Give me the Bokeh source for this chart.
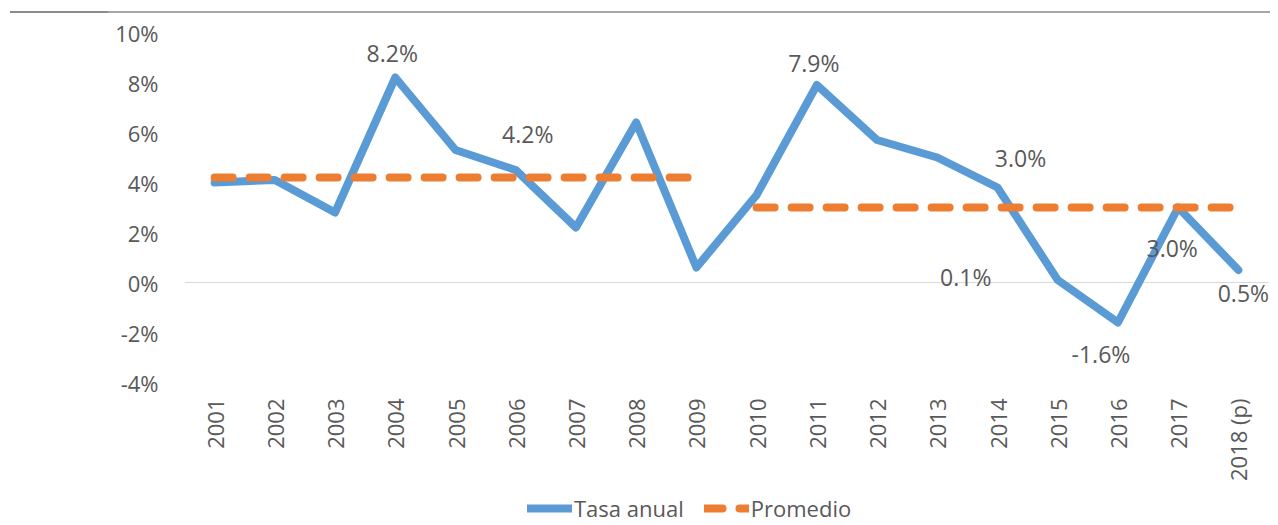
import math
from bokeh.plotting import figure
from bokeh.models import (FactorRange, Range1d, FixedTicker, PrintfTickFormatter,
                          Span, Legend, LegendItem, LabelSet, ColumnDataSource, Div)
from bokeh.layouts import column
from bokeh.core.properties import value
from bokeh.embed import file_html
from bokeh.resources import INLINE

# ---------------- data ----------------
years = ["2001", "2002", "2003", "2004", "2005", "2006", "2007", "2008", "2009",
         "2010", "2011", "2012", "2013", "2014", "2015", "2016", "2017", "2018 (p)"]
tasa_anual = [4.0, 4.1, 2.8, 8.2, 5.3, 4.5, 2.2, 6.4, 0.6,
              3.5, 7.9, 5.7, 5.0, 3.8, 0.1, -1.6, 3.0, 0.5]
promedio_years_1 = ["2001", "2002", "2003", "2004", "2005", "2006", "2007", "2008", "2009"]
promedio_vals_1 = [4.2, 4.2, 4.2, 4.2, 4.2, 4.2, 4.2, 4.2, 4.2]
promedio_years_2 = ["2010", "2011", "2012", "2013", "2014", "2015", "2016", "2017", "2018 (p)"]
promedio_vals_2 = [3.0, 3.0, 3.0, 3.0, 3.0, 3.0, 3.0, 3.0, 3.0]
y_ticks = [-4, -2, 0, 2, 4, 6, 8, 10]
label_years = ["2004", "2006", "2011", "2014", "2015", "2016", "2017", "2018 (p)"]
label_texts = ["8.2%", "4.2%", "7.9%", "3.0%", "0.1%", "-1.6%", "3.0%", "0.5%"]

# label placement (style, screen px)
label_dx = [-3, 12, -3, 23, -92, -17, -6, 5]
label_dy = [25, 36, 22, 30, 3, -31, -40, -23]

FONT = "Open Sans"
TXT = "#595959"
BLUE = "#5B9BD5"
ORANGE = "#ED7D31"

# frame extends to the bottom of the page so that the x axis (fixed at -4)
# and the legend can be drawn inside it
p = figure(frame_width=1084, frame_height=493, x_range=FactorRange(*years),
           y_range=Range1d(-9.72, 10), output_backend="svg", toolbar_location=None,
           min_border_left=184, min_border_right=10, min_border_top=18, min_border_bottom=0,
           outline_line_color=None, background_fill_color="white", border_fill_color="white")

p.xgrid.grid_line_color = None
p.ygrid.grid_line_color = None

zero = Span(location=0, dimension="width", line_color="#d9d9d9", line_width=1, level="underlay")
p.add_layout(zero)

r_tasa = p.line(years, tasa_anual, line_color=BLUE, line_width=8, line_join="round", line_cap="round")
r_prom = p.multi_line([promedio_years_1, promedio_years_2], [promedio_vals_1, promedio_vals_2],
                      line_color=ORANGE, line_width=8, line_dash="18 17", line_cap="round")

lab_y = [tasa_anual[years.index(y)] for y in label_years]
src = ColumnDataSource(dict(x=label_years, y=lab_y, t=label_texts, dx=label_dx, dy=label_dy))
labels = LabelSet(x="x", y="y", text="t", x_offset="dx", y_offset="dy", source=src,
                  text_align="center", text_baseline="middle", text_font=value(FONT),
                  text_font_size="23px", text_color=TXT)
p.add_layout(labels)

# axes
p.yaxis.ticker = FixedTicker(ticks=y_ticks)
p.yaxis.formatter = PrintfTickFormatter(format="%d%%")
p.yaxis.axis_line_color = None
p.yaxis.major_tick_line_color = None
p.yaxis.minor_tick_line_color = None
p.yaxis.major_tick_out = 0
p.yaxis.major_tick_in = 0
p.yaxis.major_label_standoff = 26
p.yaxis.major_label_text_font = FONT
p.yaxis.major_label_text_font_size = "22px"
p.yaxis.major_label_text_color = TXT

p.xaxis.fixed_location = -4
p.xaxis.axis_line_color = None
p.xaxis.major_tick_line_color = None
p.xaxis.minor_tick_line_color = None
p.xaxis.major_tick_out = 0
p.xaxis.major_tick_in = 0
p.xaxis.major_label_standoff = 16
p.xaxis.major_label_orientation = math.pi / 2
p.xaxis.major_label_text_font = FONT
p.xaxis.major_label_text_font_size = "22px"
p.xaxis.major_label_text_color = TXT

legend = Legend(items=[LegendItem(label="Tasa anual", renderers=[r_tasa]),
                       LegendItem(label="Promedio", renderers=[r_prom])],
                orientation="horizontal", location=(343, 2),
                glyph_width=45, glyph_height=20, label_standoff=2, spacing=20,
                padding=0, margin=0, border_line_color=None, background_fill_alpha=0,
                label_text_font=FONT, label_text_font_size="22px", label_text_color=TXT)
p.add_layout(legend, "center")

top_rule = Div(text='<div style="position:relative;width:1278px;height:14px;margin:0;padding:0;">'
                    '<div style="position:absolute;left:10px;top:11px;width:1260px;height:0;border-top:2px solid #a6a6a6;"></div>'
                    '<div style="position:absolute;left:10px;top:11px;width:98px;height:0;border-top:2px solid #8c8c8c;"></div>'
                    '</div>', width=1278, height=14, margin=0)

layout = column(top_rule, p, spacing=0)

open("out.html", "w").write(file_html(layout, INLINE))
